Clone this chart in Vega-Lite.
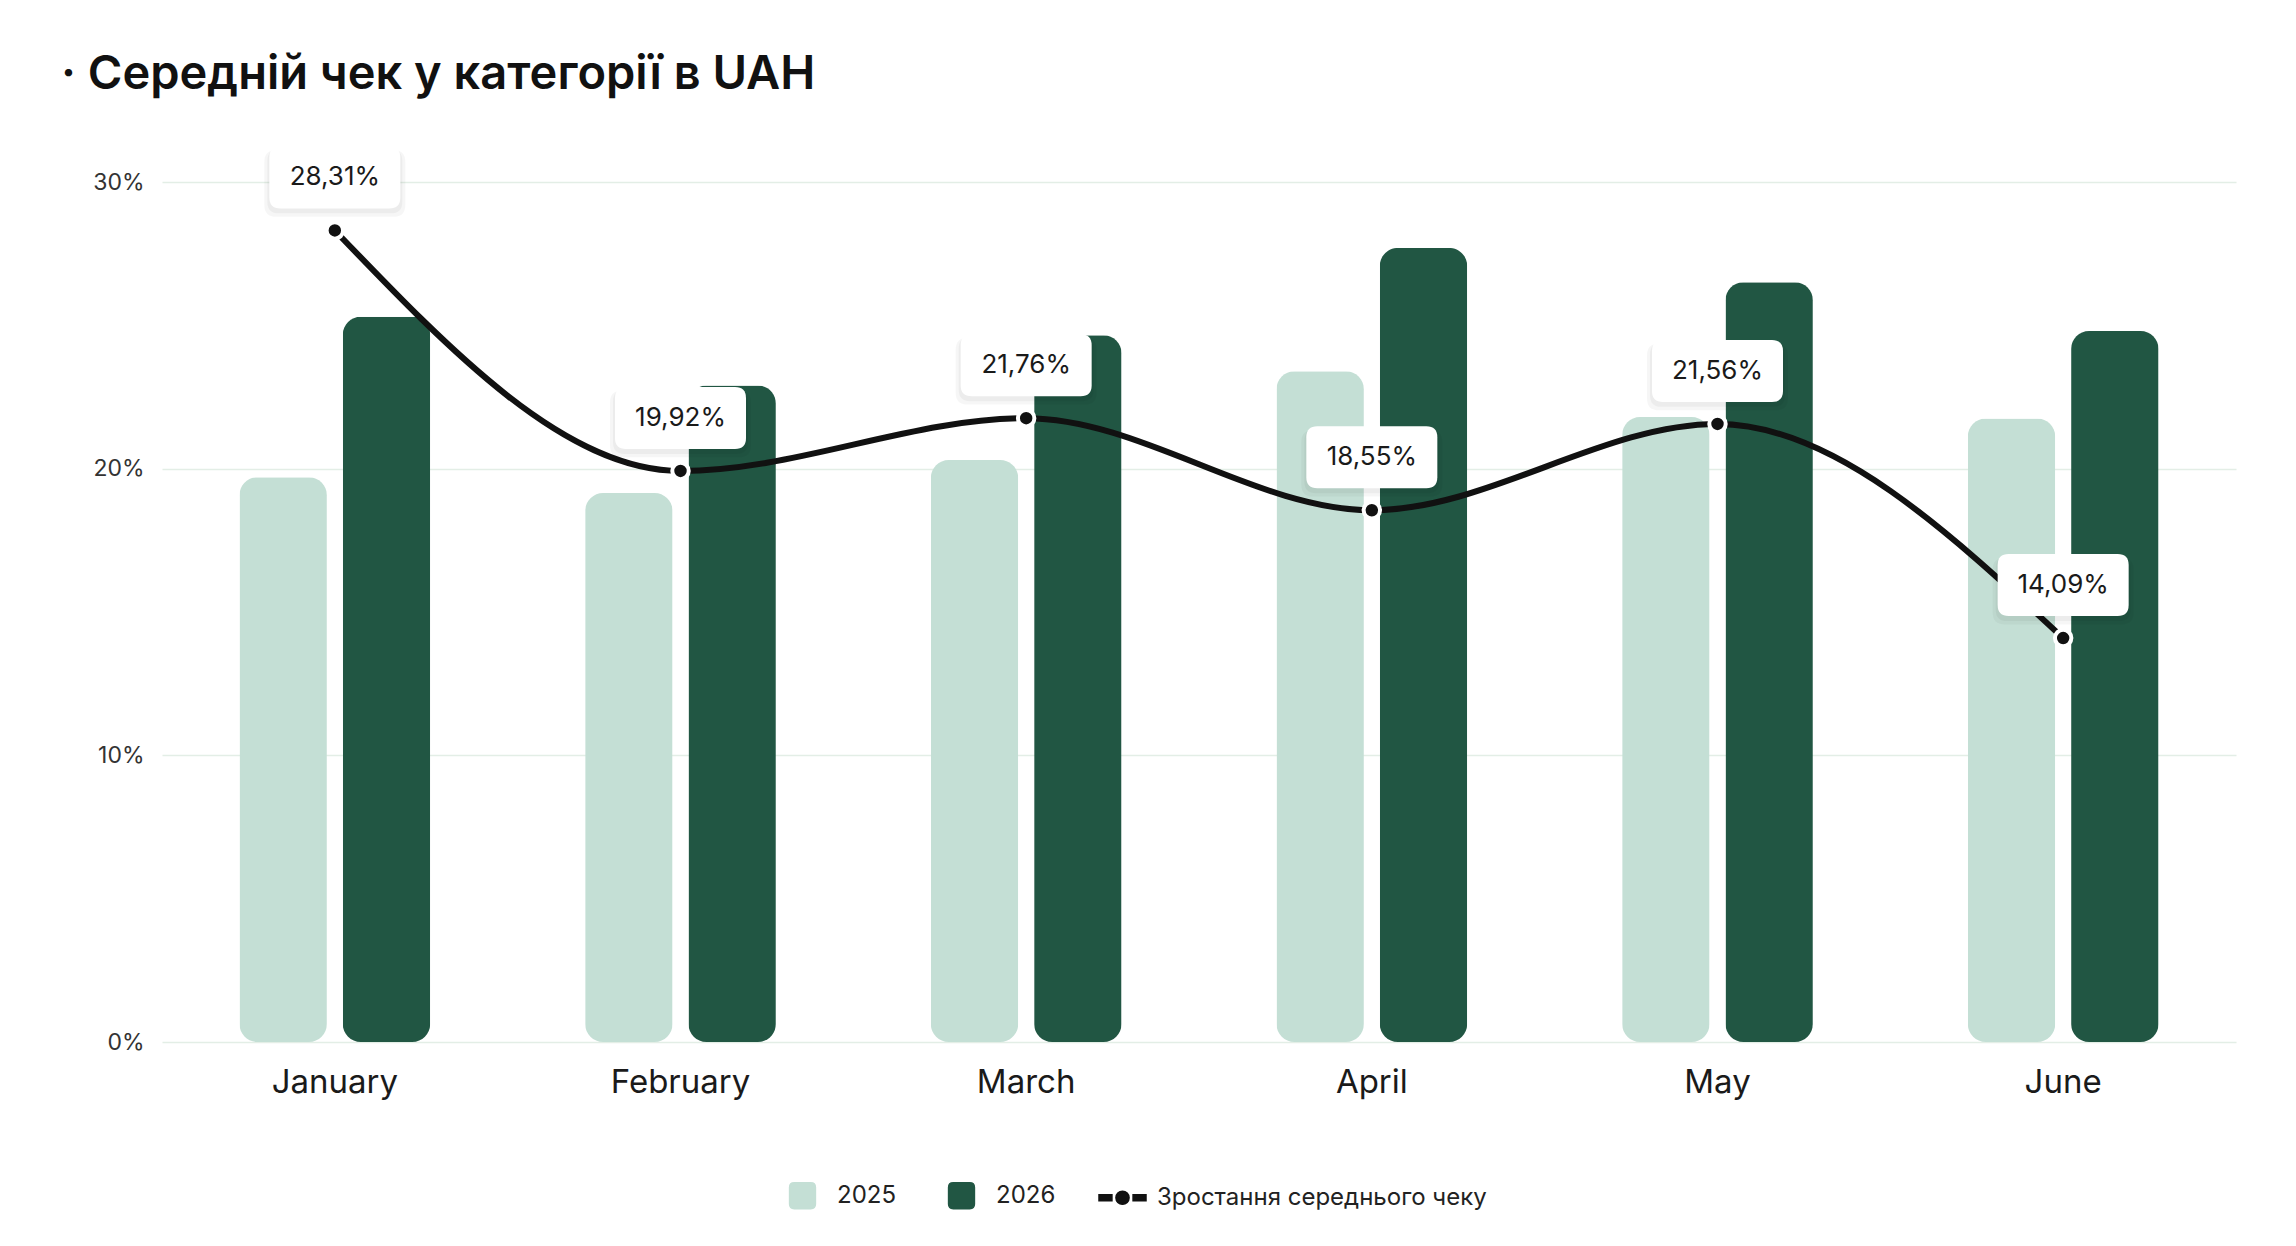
{
  "$schema": "https://vega.github.io/schema/vega-lite/v6.json",
  "width": 2074,
  "height": 860,
  "autosize": "none",
  "padding": {"left": 162, "top": 182, "right": 60, "bottom": 204},
  "background": "white",
  "title": {
    "text": "· Середній чек у категорії в UAH",
    "anchor": "start",
    "frame": "group",
    "dx": -101,
    "offset": 47,
    "fontSize": 47,
    "fontWeight": 600,
    "color": "#111111",
    "font": "Inter"
  },
  "data": {
    "values": [
      {"month": "January", "series": "2025", "value": 0.197},
      {"month": "January", "series": "2026", "value": 0.253},
      {"month": "January", "series": "Зростання середнього чеку", "value": 0.2831},
      {"month": "February", "series": "2025", "value": 0.1915},
      {"month": "February", "series": "2026", "value": 0.229},
      {"month": "February", "series": "Зростання середнього чеку", "value": 0.1992},
      {"month": "March", "series": "2025", "value": 0.203},
      {"month": "March", "series": "2026", "value": 0.2465},
      {"month": "March", "series": "Зростання середнього чеку", "value": 0.2176},
      {"month": "April", "series": "2025", "value": 0.234},
      {"month": "April", "series": "2026", "value": 0.277},
      {"month": "April", "series": "Зростання середнього чеку", "value": 0.1855},
      {"month": "May", "series": "2025", "value": 0.218},
      {"month": "May", "series": "2026", "value": 0.265},
      {"month": "May", "series": "Зростання середнього чеку", "value": 0.2156},
      {"month": "June", "series": "2025", "value": 0.2175},
      {"month": "June", "series": "2026", "value": 0.248},
      {"month": "June", "series": "Зростання середнього чеку", "value": 0.1409}
    ]
  },
  "encoding": {
    "x": {
      "field": "month",
      "type": "nominal",
      "sort": ["January", "February", "March", "April", "May", "June"],
      "scale": {"paddingInner": 0, "paddingOuter": 0},
      "axis": {
        "title": null,
        "labelAngle": 0,
        "labelFontSize": 33,
        "labelFont": "Inter",
        "labelColor": "#1a1a1a",
        "labelPadding": 24,
        "domain": false,
        "ticks": false,
        "grid": false
      }
    },
    "y": {
      "field": "value",
      "type": "quantitative",
      "scale": {"domain": [0, 0.3]},
      "axis": {
        "title": null,
        "values": [0, 0.1, 0.2, 0.3],
        "format": ".0%",
        "labelFontSize": 23,
        "labelFont": "Inter",
        "labelColor": "#333333",
        "labelPadding": 18,
        "domain": false,
        "ticks": false,
        "gridColor": "#e3eee6",
        "gridWidth": 1.5
      }
    }
  },
  "layer": [
    {
      "transform": [{"filter": "datum.series !== 'Зростання середнього чеку'"}],
      "mark": {"type": "bar", "cornerRadius": 18},
      "encoding": {
        "xOffset": {
          "field": "series",
          "type": "nominal",
          "scale": {"paddingInner": 0.154, "paddingOuter": 0.75}
        },
        "color": {
          "field": "series",
          "type": "nominal",
          "scale": {
            "domain": ["2025", "2026", "Зростання середнього чеку"],
            "range": ["#c4dfd5", "#215643", "#111111"]
          },
          "legend": {
            "title": null,
            "orient": "none",
            "legendX": 616,
            "legendY": 989,
            "direction": "horizontal",
            "symbolSize": 2209,
            "labelFontSize": 24,
            "labelFont": "Inter",
            "labelColor": "#222222",
            "labelOffset": 10,
            "labelLimit": 800,
            "columnPadding": 40,
            "encode": {
              "symbols": {
                "update": {
                  "shape": {"signal": "datum.value === 'Зростання середнього чеку' ? 'M-1,-0.13 L-0.45,-0.13 L-0.45,0.13 L-1,0.13 Z M0.45,-0.13 L1,-0.13 L1,0.13 L0.45,0.13 Z M-0.28,0 A0.28,0.28 0 1,0 0.28,0 A0.28,0.28 0 1,0 -0.28,0 Z' : 'M-0.35,-0.55 L0.35,-0.55 Q0.55,-0.55 0.55,-0.35 L0.55,0.35 Q0.55,0.55 0.35,0.55 L-0.35,0.55 Q-0.55,0.55 -0.55,0.35 L-0.55,-0.35 Q-0.55,-0.55 -0.35,-0.55 Z'"},
                  "fill": {"scale": "color", "field": "value"},
                  "stroke": {"value": "transparent"},
                  "opacity": {"value": 1}
                }
              }
            }
          }
        }
      }
    },
    {
      "transform": [{"filter": "datum.series === 'Зростання середнього чеку'"}],
      "mark": {"type": "line", "interpolate": "monotone", "strokeWidth": 6},
      "encoding": {
        "color": {"field": "series", "type": "nominal"}
      }
    },
    {
      "transform": [{"filter": "datum.series === 'Зростання середнього чеку'"}],
      "mark": {"type": "point", "shape": "circle", "filled": true, "size": 270, "fill": "#111111", "stroke": "white", "strokeWidth": 4, "opacity": 1}
    },
    {
      "transform": [{"filter": "datum.series === 'Зростання середнього чеку'"}],
      "mark": {"type": "point", "filled": true, "fill": "#000000", "opacity": 0.035, "strokeWidth": 0, "yOffset": -47, "size": 19881,
        "shape": "M-0.832,-0.473 L0.832,-0.473 Q1,-0.473 1,-0.305 L1,0.305 Q1,0.473 0.832,0.473 L-0.832,0.473 Q-1,0.473 -1,0.305 L-1,-0.305 Q-1,-0.473 -0.832,-0.473 Z"}
    },
    {
      "transform": [{"filter": "datum.series === 'Зростання середнього чеку'"}],
      "mark": {"type": "point", "filled": true, "fill": "#000000", "opacity": 0.04, "strokeWidth": 0, "yOffset": -49, "size": 18225,
        "shape": "M-0.832,-0.473 L0.832,-0.473 Q1,-0.473 1,-0.305 L1,0.305 Q1,0.473 0.832,0.473 L-0.832,0.473 Q-1,0.473 -1,0.305 L-1,-0.305 Q-1,-0.473 -0.832,-0.473 Z"}
    },
    {
      "transform": [{"filter": "datum.series === 'Зростання середнього чеку'"}],
      "mark": {"type": "point", "filled": true, "fill": "white", "opacity": 1, "strokeWidth": 0, "yOffset": -53, "size": 17161,
        "shape": "M-0.832,-0.473 L0.832,-0.473 Q1,-0.473 1,-0.305 L1,0.305 Q1,0.473 0.832,0.473 L-0.832,0.473 Q-1,0.473 -1,0.305 L-1,-0.305 Q-1,-0.473 -0.832,-0.473 Z"}
    },
    {
      "transform": [{"filter": "datum.series === 'Зростання середнього чеку'"}],
      "mark": {"type": "text", "yOffset": -53, "fontSize": 26, "font": "Inter", "fill": "#1a1a1a", "align": "center", "baseline": "middle"},
      "encoding": {
        "text": {"field": "value", "type": "quantitative", "format": ".2%"}
      }
    }
  ],
  "config": {
    "view": {"stroke": null},
    "locale": {
      "number": {"decimal": ",", "thousands": " ", "grouping": [3], "currency": ["", " ₴"], "percent": "%"}
    }
  }
}
